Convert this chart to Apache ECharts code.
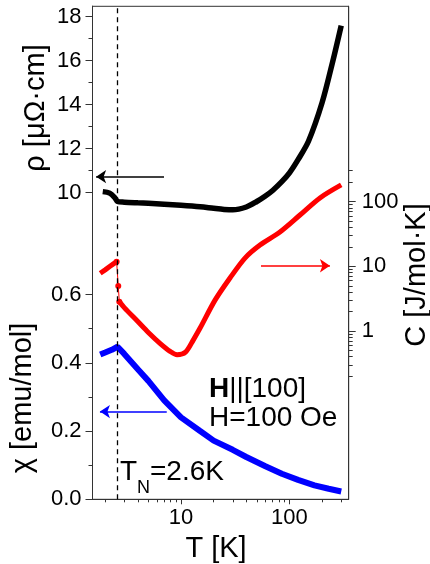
<!DOCTYPE html>
<html>
<head>
<meta charset="utf-8">
<script src="https://cdn.jsdelivr.net/npm/echarts@6/dist/echarts.min.js"></script>
<style>
  html, body { margin: 0; padding: 0; background: #fff; }
  #chart { width: 430px; height: 564px; }
</style>
</head>
<body>
<div id="chart"></div>
<script>
// resistivity rho [µΩ·cm] vs T (black)
const rhoT   = [1.9, 2.2, 2.45, 2.6, 3, 4, 5, 7, 10, 15, 20, 25, 30, 40, 50, 60, 70, 85, 100, 120, 150, 200, 250, 300];
const rhoVal = [10.05, 9.98, 9.78, 9.6, 9.57, 9.54, 9.52, 9.48, 9.43, 9.36, 9.29, 9.24, 9.22, 9.35, 9.6, 9.85, 10.1, 10.5, 10.9, 11.5, 12.35, 14.1, 15.95, 17.6];

// susceptibility chi [emu/mol] (blue)
const chiT   = [1.8, 2.0, 2.3, 2.6, 3, 4, 5, 7, 10, 15, 20, 30, 40, 60, 85, 120, 170, 230, 300];
const chiVal = [0.424, 0.43, 0.438, 0.447, 0.426, 0.381, 0.347, 0.29, 0.24, 0.2, 0.172, 0.145, 0.124, 0.097, 0.075, 0.057, 0.041, 0.031, 0.023];

// specific heat C [J/mol·K] (red): below T_N, jump, above T_N
const cLowT    = [1.8, 2.0, 2.2, 2.4, 2.55];
const cLowVal  = [7.8, 8.8, 9.9, 11.0, 11.8];
const cJumpT   = [2.55, 2.64, 2.7];
const cJumpVal = [11.8, 4.96, 2.84];
const cHighT   = [2.7, 3, 4, 5, 6.4, 8, 9.2, 11, 13, 15, 20.6, 28.3, 38.9, 53.5, 81.7, 125, 191, 300];
const cHighVal = [2.84, 2.3, 1.4, 0.95, 0.645, 0.48, 0.43, 0.47, 0.73, 1.11, 3.0, 6.6, 13.4, 21.3, 33.9, 62, 114, 181];

// tick values
const xMajorTicks   = [10, 100];
const xMinorTicks   = [2, 3, 4, 5, 6, 7, 8, 9, 20, 30, 40, 50, 60, 70, 80, 90, 200, 300];
const rhoTicks      = [10, 12, 14, 16, 18];
const rhoMinorTicks = [11, 13, 15, 17];
const chiTicks      = [0, 0.2, 0.4, 0.6];
const chiMinorTicks = [0.1, 0.3, 0.5];
const cTicks        = [1, 10, 100];
const cMinorTicks   = [0.2, 0.3, 0.4, 0.5, 0.6, 0.7, 0.8, 0.9, 2, 3, 4, 5, 6, 7, 8, 9, 20, 30, 40, 50, 60, 70, 80, 90, 200, 300];

const T_N = 2.6;

// axis ranges (all three y scales share one frame)
const X_MIN = 1.528, X_MAX = 351.6;
const RHO_MIN = -3.936, RHO_MAX = 18.473;
const CHI_MIN = 0, CHI_MAX = 1.4445;
const C_MIN = 0.002506, C_MAX = 104200;

const FONT = '"Liberation Sans", Arial, sans-serif';
const AXIS_COLOR = '#333';
const TICK_FONT = 22;

const pair = (xs, ys) => xs.map((x, i) => [x, ys[i]]);

function xAxisDef(ticks, tickLen, withLabel, withLine) {
    return {
        type: 'log', logBase: 10, min: X_MIN, max: X_MAX, gridIndex: 0, position: 'bottom',
        axisLine: { show: withLine, onZero: false, lineStyle: { color: AXIS_COLOR, width: 1 } },
        axisTick: { show: true, customValues: ticks, length: tickLen, lineStyle: { color: AXIS_COLOR } },
        axisLabel: withLabel
            ? { show: true, customValues: ticks, fontSize: TICK_FONT, fontFamily: FONT, color: '#000', margin: 8 }
            : { show: false },
        splitLine: { show: false },
        minorTick: { show: false }
    };
}

function yAxisDef(type, min, max, pos, ticks, tickLen, label) {
    return {
        type: type, min: min, max: max, position: pos, gridIndex: 0,
        logBase: 10,
        axisLine: { show: true, onZero: false, lineStyle: { color: AXIS_COLOR, width: 1 } },
        axisTick: { show: true, customValues: ticks, length: tickLen, lineStyle: { color: AXIS_COLOR } },
        axisLabel: label
            ? Object.assign({ show: true, customValues: ticks, fontSize: TICK_FONT, fontFamily: FONT, color: '#000' }, label)
            : { show: false },
        splitLine: { show: false },
        minorTick: { show: false }
    };
}

function arrowLine(from, to, color) {
    return {
        silent: true,
        animation: false,
        symbol: ['none', 'arrow'],
        symbolSize: 10,
        label: { show: false },
        lineStyle: { color: color, width: 1.5, type: 'solid' },
        data: [[{ coord: from }, { coord: to }]]
    };
}

function label(text, x, y, size, opts) {
    return Object.assign({
        type: 'text', x: x, y: y,
        style: Object.assign({ text: text, font: size + 'px ' + FONT, fill: '#000', textAlign: 'left', textVerticalAlign: 'middle' },
                             opts && opts.style)
    }, opts && opts.rotation ? { rotation: opts.rotation } : {});
}

const chart = echarts.init(document.getElementById('chart'));

const option = {
    animation: false,
    backgroundColor: '#fff',
    grid: {
        left: 92.5, right: 81.3, top: 6.3, bottom: 64.7,
        show: true, borderColor: AXIS_COLOR, borderWidth: 1, backgroundColor: 'transparent'
    },
    xAxis: [
        xAxisDef(xMajorTicks, 5, true, true),
        xAxisDef(xMinorTicks, 3, false, false)
    ],
    yAxis: [
        yAxisDef('value', RHO_MIN, RHO_MAX, 'left', rhoTicks, 7, { margin: 11 }),
        yAxisDef('value', RHO_MIN, RHO_MAX, 'left', rhoMinorTicks, 4, null),
        yAxisDef('value', CHI_MIN, CHI_MAX, 'left', chiTicks, 7, { margin: 11, formatter: v => v.toFixed(1) }),
        yAxisDef('value', CHI_MIN, CHI_MAX, 'left', chiMinorTicks, 4, null),
        yAxisDef('log', C_MIN, C_MAX, 'right', cTicks, 7, { margin: 13 }),
        yAxisDef('log', C_MIN, C_MAX, 'right', cMinorTicks, 4, null)
    ],
    series: [
        {
            name: 'rho', type: 'line', xAxisIndex: 0, yAxisIndex: 0,
            data: pair(rhoT, rhoVal), showSymbol: false, smooth: 0.3, clip: false,
            lineStyle: { color: '#000', width: 5.5 },
            markLine: {
                silent: true, animation: false, symbol: ['none', 'none'],
                label: { show: false },
                lineStyle: { color: '#000', width: 1.3, type: [5, 4] },
                data: [{ xAxis: T_N }]
            }
        },
        {
            name: 'rhoArrow', type: 'line', xAxisIndex: 0, yAxisIndex: 0, data: [],
            markLine: arrowLine([6.97, 10.73], [1.65, 10.73], '#000')
        },
        {
            name: 'chi', type: 'line', xAxisIndex: 0, yAxisIndex: 2,
            data: pair(chiT, chiVal), showSymbol: false, clip: false,
            lineStyle: { color: '#0000ff', width: 6 },
            markLine: arrowLine([7.39, 0.257], [1.79, 0.257], '#0000ff')
        },
        {
            name: 'cLow', type: 'line', xAxisIndex: 0, yAxisIndex: 4,
            data: pair(cLowT, cLowVal), showSymbol: false, clip: false,
            lineStyle: { color: '#ff0000', width: 5 }
        },
        {
            name: 'cJump', type: 'line', xAxisIndex: 0, yAxisIndex: 4,
            data: pair(cJumpT, cJumpVal), symbol: 'circle', symbolSize: 6, showSymbol: true, clip: false,
            itemStyle: { color: '#ff0000' },
            lineStyle: { color: '#ff0000', width: 1 }
        },
        {
            name: 'cHigh', type: 'line', xAxisIndex: 0, yAxisIndex: 4,
            data: pair(cHighT, cHighVal), showSymbol: false, smooth: 0.3, clip: false,
            lineStyle: { color: '#ff0000', width: 5 },
            markLine: arrowLine([54.6, 10.2], [236, 10.2], '#ff0000')
        }
    ],
    graphic: [
        label('ρ [μΩ·cm]', 36, 108, 29, { rotation: Math.PI / 2, style: { textAlign: 'center' } }),
        label('χ [emu/mol]', 23, 398, 29, { rotation: Math.PI / 2, style: { textAlign: 'center' } }),
        label('C [J/mol·K]', 417, 275, 29, { rotation: Math.PI / 2, style: { textAlign: 'center' } }),
        label('T [K]', 216, 549, 29, { style: { textAlign: 'center' } }),
        label('{b|H}||[100]', 209, 389, 28, { style: { rich: { b: { fontWeight: 'bold', fontSize: 28, fontFamily: FONT } } } }),
        label('H=100 Oe', 209, 418, 28),
        label('T', 120, 472, 28),
        label('N', 137, 488, 18),
        label('=2.6K', 150, 472, 28)
    ]
};

chart.setOption(option);
</script>
</body>
</html>
